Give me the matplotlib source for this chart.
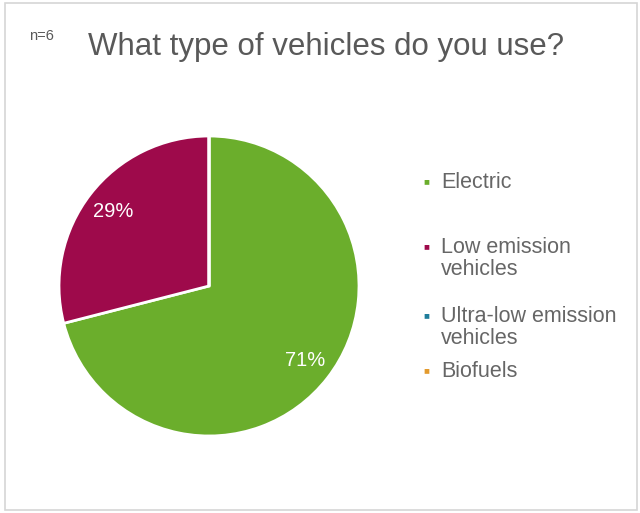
import matplotlib
matplotlib.use("Agg")
import matplotlib.pyplot as plt
from matplotlib.patches import Rectangle

plt.rcParams['font.family'] = ['Liberation Sans', 'DejaVu Sans']

categories = ['Electric', 'Low emission\nvehicles', 'Ultra-low emission\nvehicles', 'Biofuels']
shares = [71, 29, 0, 0]
colors = ['#6bae2c', '#9e0a4b', '#1f7d9b', '#e39a2d']
sample_note = 'n=6'
title = 'What type of vehicles do you use?'

W, H = 640, 513
fig = plt.figure(figsize=(W / 100, H / 100), dpi=100)

# thin grey frame around the slide
fig.patches.append(Rectangle((5 / W, 3 / H), 632 / W, 507 / H,
                             transform=fig.transFigure, fill=False,
                             edgecolor='#d6d6d6', linewidth=1.2))

cx, cy, r = 209, 286, 150
ax = fig.add_axes([(cx - r) / W, 1 - (cy + r) / H, 2 * r / W, 2 * r / H])

wedges, _, autotexts = ax.pie(
    shares, colors=colors, startangle=90, counterclock=False,
    autopct=lambda p: f'{p:.0f}%' if p > 0 else '',
    pctdistance=0.81,
    wedgeprops=dict(edgecolor='white', linewidth=2),
    textprops=dict(color='white', fontsize=14.5))
ax.set_xlim(-1.0, 1.0)
ax.set_ylim(-1.0, 1.0)
ax.set_aspect('equal')
ax.axis('off')

fig.text(29 / W, 1 - 40 / H, sample_note, fontsize=10.5, color='#595959', va='baseline')
fig.text(88 / W, 1 - 55 / H, title, fontsize=22.5, color='#595959', va='baseline')

# legend drawn as coloured squares with wrapped labels
legend_base = [188, 253, 322, 377]
line_gap = 22
for label, col, y in zip(categories, colors, legend_base):
    fig.text(426 / W, 1 - (y - 7) / H, '■', color=col, fontsize=7,
             ha='center', va='center')
    for i, line in enumerate(label.split('\n')):
        fig.text(441 / W, 1 - (y + i * line_gap) / H, line, color='#666666',
                 fontsize=15.5, va='baseline')

fig.savefig('out.png', dpi=100)
